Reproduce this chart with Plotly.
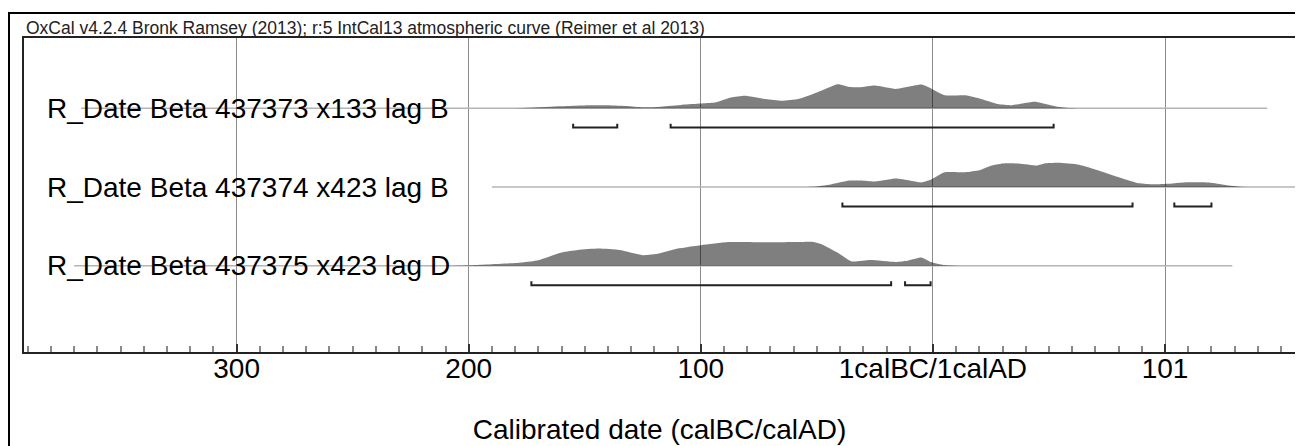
import plotly.graph_objects as go

# ---------------- data ----------------
row_labels = ["R_Date Beta 437373 x133 lag B",
              "R_Date Beta 437374 x423 lag B",
              "R_Date Beta 437375 x423 lag D"]

# year coordinate: negative = calBC side, 0 = 1calBC/1calAD boundary
r1_t = [-180, -165, -148, -140, -131, -124, -117, -108, -100, -94, -87, -81, -72, -65, -58,
        -50, -41, -36, -31, -25, -16, -5, -1, 5, 14, 20, 28, 34, 44, 53, 60, 71]
r1_p = [0, 0.07, 0.13, 0.13, 0.09, 0.04, 0.07, 0.15, 0.20, 0.24, 0.45, 0.52, 0.38, 0.31, 0.38,
        0.65, 0.99, 0.88, 0.87, 0.94, 0.80, 0.98, 0.83, 0.54, 0.54, 0.41, 0.18, 0.13, 0.27, 0.08, 0.01, 0]

r2_t = [-60, -52, -44, -36, -31, -25, -16, -10, -5, -1, 5, 14, 20, 25, 31, 37, 45, 48, 54, 63,
        71, 83, 88, 94, 100, 110, 119, 126, 133, 140]
r2_p = [0, 0.01, 0.11, 0.27, 0.27, 0.23, 0.35, 0.27, 0.19, 0.30, 0.61, 0.61, 0.69, 0.88, 0.98,
        0.97, 0.89, 0.97, 1.0, 0.92, 0.69, 0.31, 0.17, 0.12, 0.13, 0.20, 0.19, 0.09, 0.01, 0]

r3_t = [-208, -200, -177, -170, -160, -153, -144, -135, -125, -118, -110, -100, -88, -70, -58,
        -52, -48, -41, -35, -27, -16, -11, -5, -1, 5, 11]
r3_p = [0, 0.02, 0.14, 0.23, 0.55, 0.65, 0.71, 0.65, 0.44, 0.51, 0.71, 0.85, 0.98, 0.97, 0.98,
        0.99, 0.89, 0.54, 0.18, 0.24, 0.16, 0.21, 0.34, 0.16, 0.03, 0]

# calibration range lines (start, end)
r1_span = [-367, 144]
r2_span = [-190, 160]
r3_span = [-370, 129]

# 95.4% ranges
r1_ranges = [[-155, -136], [-113, 52]]
r2_ranges = [[-39, 86], [104, 120]]
r3_ranges = [[-173, -18], [-12, -1]]

tick_vals = [-300, -200, -100, 0, 100]
tick_text = ["300", "200", "100", "1calBC/1calAD", "101"]

header = "OxCal v4.2.4 Bronk Ramsey (2013); r:5 IntCal13 atmospheric curve (Reimer et al 2013)"
x_title = "Calibrated date (calBC/calAD)"

# ---------------- figure ----------------
FONT = "Liberation Sans, Arial, sans-serif"
rows = [
    (3, r1_t, r1_p, r1_span, r1_ranges, row_labels[0]),
    (2, r2_t, r2_p, r2_span, r2_ranges, row_labels[1]),
    (1, r3_t, r3_p, r3_span, r3_ranges, row_labels[2]),
]
SCALE = 0.308
BR_OFF = 0.245
BR_TICK = 0.05

fig = go.Figure()
for yb, t, p, span, ranges, lab in rows:
    # baseline
    fig.add_trace(go.Scatter(x=span, y=[yb, yb], mode="lines",
                             line=dict(color="#b4b4b4", width=1.5),
                             hoverinfo="skip", showlegend=False))
    # distribution (first and last values sit on the baseline, so toself closes along it)
    fig.add_trace(go.Scatter(x=t, y=[yb + SCALE * v for v in p], mode="lines", fill="toself",
                             fillcolor="rgba(0,0,0,0.5)",
                             line=dict(width=0, shape="spline", smoothing=0.5),
                             hoverinfo="skip", showlegend=False))
    # brackets
    for a, b in ranges:
        yy = yb - BR_OFF
        fig.add_trace(go.Scatter(x=[a, a, b, b], y=[yy + BR_TICK, yy, yy, yy + BR_TICK],
                                 mode="lines", line=dict(color="#222222", width=2),
                                 hoverinfo="skip", showlegend=False))
    fig.add_annotation(x=0, xref="paper", xshift=21, xanchor="left",
                       y=yb, yref="y", yanchor="middle", yshift=0,
                       text=lab, showarrow=False,
                       font=dict(family=FONT, size=28, color="#000"))

fig.add_annotation(x=0, xref="paper", xanchor="left", y=1, yref="paper",
                   yanchor="bottom", yshift=-2, text=header, showarrow=False,
                   font=dict(family=FONT, size=17.5, color="#222"))

# outer frame
fig.add_shape(type="rect", xref="paper", yref="paper",
              x0=-0.0118, x1=1.02, y0=-0.35, y1=1.0798,
              line=dict(color="#000", width=2), fillcolor="rgba(0,0,0,0)")

# page body adds an 8px margin: size the figure so it fits the 1303x446 window
fig.update_layout(
    width=1295, height=438,
    margin=dict(l=16, r=6, t=30, b=91),
    paper_bgcolor="white", plot_bgcolor="white",
    font=dict(family=FONT, color="#000"),
    xaxis=dict(range=[-391.6, 156], tickvals=tick_vals, ticktext=tick_text,
               showgrid=True, gridcolor="#8c8c8c", gridwidth=1.3,
               ticks="inside", ticklen=8, tickcolor="#333", tickwidth=1.5,
               tickfont=dict(family=FONT, size=28, color="#000"),
               ticklabelstandoff=-10,
               showline=True, linecolor="#222", linewidth=2, mirror=True,
               zeroline=False,
               minor=dict(ticks="inside", dtick=10, tick0=0, ticklen=6,
                          tickcolor="#888", tickwidth=1.5, showgrid=False),
               title=dict(text=x_title, font=dict(family=FONT, size=28, color="#000"),
                          standoff=37)),
    yaxis=dict(range=[-0.094, 3.893], showgrid=False, zeroline=False,
               showticklabels=False, ticks="",
               showline=True, linecolor="#222", linewidth=2, mirror=True),
)

fig.write_html("out.html")
